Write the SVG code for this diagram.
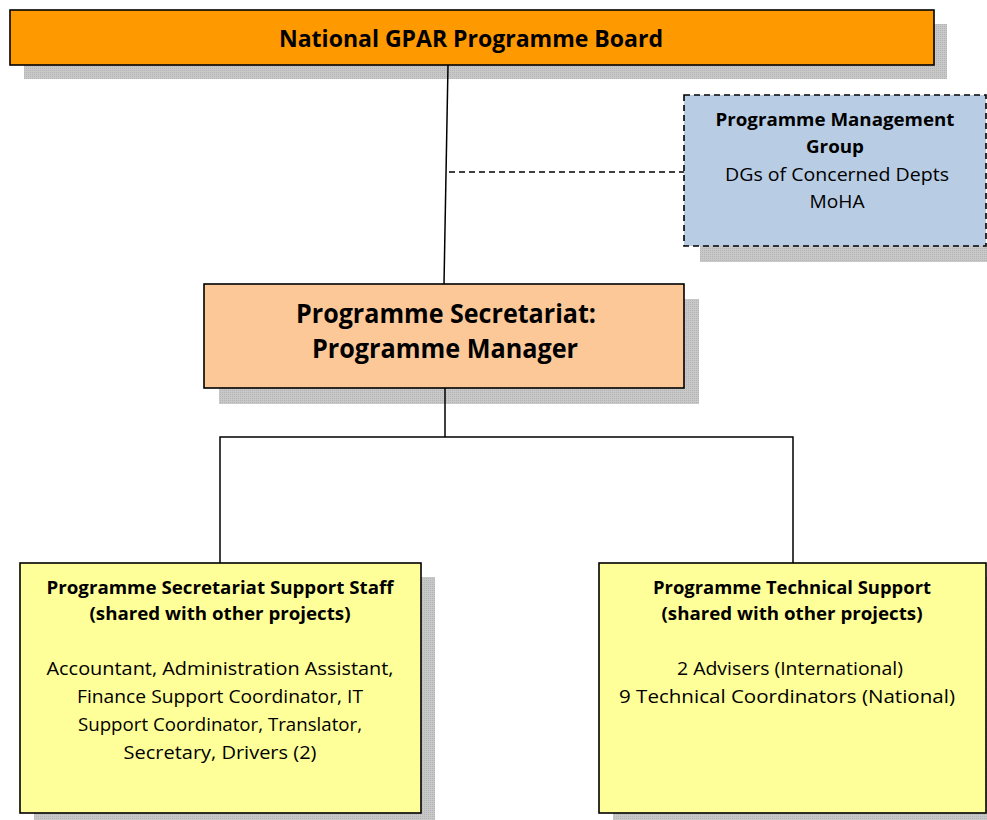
<svg xmlns="http://www.w3.org/2000/svg" width="987" height="820" viewBox="0 0 987 820">
  <defs>
    <pattern id="shade" width="2" height="2" patternUnits="userSpaceOnUse">
      <rect width="2" height="2" fill="#c8c8c8"/>
      <rect width="1" height="1" fill="#b4b4b4"/>
    </pattern>
  </defs>
  <style>
    .shadow { fill: url(#shade); }
    .box { stroke: #000; stroke-width: 1.6; }
    .t { font-family: "Open Sans", "Noto Sans", "Liberation Sans", sans-serif; fill: #000; text-anchor: middle; }
    .b { font-weight: bold; }
    .link { fill: none; stroke: #000; stroke-width: 1.5; }
    .dash { stroke-dasharray: 6 4; }
  </style>

  <rect width="987" height="820" fill="#fff"/>

  <!-- board -->
  <g id="board">
    <rect class="shadow" x="24" y="24" width="923" height="55"/>
    <rect class="box" x="10" y="10" width="924" height="55" fill="#ff9900"/>
    <text class="t b" x="471" y="47" font-size="23" textLength="384" lengthAdjust="spacingAndGlyphs">National GPAR Programme Board</text>
  </g>

  <!-- management group -->
  <g id="management-group">
    <rect class="shadow" x="700" y="246" width="287" height="16"/>
    <rect class="box dash" x="684" y="95" width="302" height="151" fill="#b8cce4"/>
    <text class="t b" x="835" y="126" font-size="17.5" textLength="239" lengthAdjust="spacingAndGlyphs">Programme Management</text>
    <text class="t b" x="835" y="153" font-size="17.5" textLength="58" lengthAdjust="spacingAndGlyphs">Group</text>
    <text class="t" x="837" y="181" font-size="18" textLength="224" lengthAdjust="spacingAndGlyphs">DGs of Concerned Depts</text>
    <text class="t" x="837" y="208" font-size="18" textLength="55" lengthAdjust="spacingAndGlyphs">MoHA</text>
  </g>

  <!-- secretariat -->
  <g id="secretariat">
    <rect class="shadow" x="219" y="299" width="480" height="105"/>
    <rect class="box" x="204" y="284" width="480" height="104" fill="#fcc898"/>
    <text class="t b" x="446" y="323" font-size="27" textLength="300" lengthAdjust="spacingAndGlyphs">Programme Secretariat:</text>
    <text class="t b" x="445" y="358" font-size="27" textLength="266" lengthAdjust="spacingAndGlyphs">Programme Manager</text>
  </g>

  <!-- support staff -->
  <g id="support-staff">
    <rect class="shadow" x="34" y="577" width="401" height="243"/>
    <rect class="box" x="20" y="563" width="401" height="250" fill="#ffff99"/>
    <text class="t b" x="220" y="594" font-size="17.5" textLength="347" lengthAdjust="spacingAndGlyphs">Programme Secretariat Support Staff</text>
    <text class="t b" x="220" y="620" font-size="17.5" textLength="261" lengthAdjust="spacingAndGlyphs">(shared with other projects)</text>
    <text class="t" x="220" y="675" font-size="18" textLength="347" lengthAdjust="spacingAndGlyphs">Accountant, Administration Assistant,</text>
    <text class="t" x="220" y="703" font-size="18" textLength="286" lengthAdjust="spacingAndGlyphs">Finance Support Coordinator, IT</text>
    <text class="t" x="220" y="731" font-size="18" textLength="284" lengthAdjust="spacingAndGlyphs">Support Coordinator, Translator,</text>
    <text class="t" x="220" y="759" font-size="18" textLength="193" lengthAdjust="spacingAndGlyphs">Secretary, Drivers (2)</text>
  </g>

  <!-- technical support -->
  <g id="technical-support">
    <rect class="shadow" x="613" y="577" width="374" height="243"/>
    <rect class="box" x="599" y="563" width="387" height="250" fill="#ffff99"/>
    <text class="t b" x="792" y="594" font-size="17.5" textLength="278" lengthAdjust="spacingAndGlyphs">Programme Technical Support</text>
    <text class="t b" x="792" y="620" font-size="17.5" textLength="261" lengthAdjust="spacingAndGlyphs">(shared with other projects)</text>
    <text class="t" x="790" y="675" font-size="18" textLength="226" lengthAdjust="spacingAndGlyphs">2 Advisers (International)</text>
    <text class="t" x="787" y="703" font-size="18" textLength="336" lengthAdjust="spacingAndGlyphs">9 Technical Coordinators (National)</text>
  </g>

  <!-- connectors, drawn over the drop shadows -->
  <g id="connectors">
    <line class="link" x1="448" y1="65" x2="444" y2="284"/>
    <line class="link dash" x1="449" y1="172" x2="684" y2="172"/>
    <polyline class="link" points="445,388 445,437"/>
    <polyline class="link" points="220,563 220,437 793,437 793,563"/>
  </g>
</svg>
